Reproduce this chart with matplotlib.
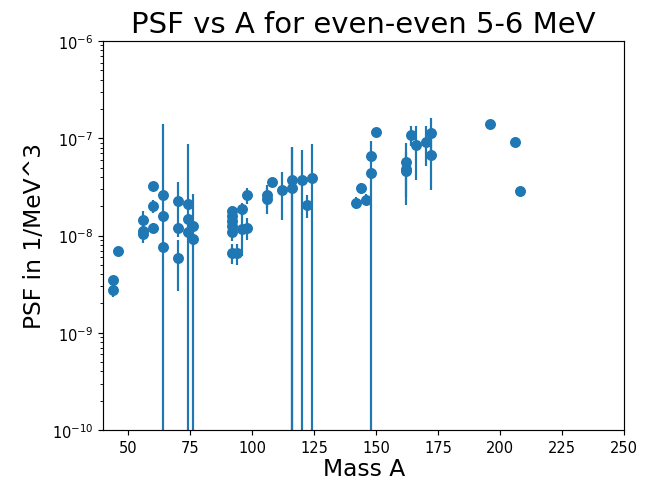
import matplotlib
matplotlib.use("Agg")
import matplotlib.pyplot as plt
import numpy as np

# Mass number A
mass_a = [44, 44, 46,
          56, 56, 56,
          60, 60, 60,
          64, 64, 64,
          70, 70, 70,
          74, 74, 74,
          76, 76,
          92, 92, 92, 92, 92, 92,
          94, 96, 96, 98, 98,
          106, 106, 108, 112,
          116, 116, 120, 122, 124,
          142, 144, 146, 148, 148, 150,
          162, 162, 162, 164, 166, 170, 172, 172,
          196, 206, 208]

# PSF values (1/MeV^3)
psf = [3.50e-9, 2.72e-9, 6.95e-9,
       1.45e-8, 1.10e-8, 1.03e-8,
       3.21e-8, 2.00e-8, 1.20e-8,
       2.61e-8, 1.60e-8, 7.59e-9,
       2.25e-8, 1.19e-8, 5.89e-9,
       2.11e-8, 1.48e-8, 1.08e-8,
       1.26e-8, 9.22e-9,
       1.80e-8, 1.60e-8, 1.42e-8, 1.26e-8, 1.08e-8, 6.60e-9,
       6.60e-9, 1.87e-8, 1.17e-8, 2.61e-8, 1.20e-8,
       2.60e-8, 2.35e-8, 3.53e-8, 2.96e-8,
       3.72e-8, 3.06e-8, 3.72e-8, 2.06e-8, 3.94e-8,
       2.16e-8, 3.06e-8, 2.34e-8, 6.53e-8, 4.40e-8, 1.17e-7,
       5.66e-8, 4.83e-8, 4.65e-8, 1.08e-7, 8.53e-8, 9.23e-8, 1.13e-7, 6.73e-8,
       1.39e-7, 9.10e-8, 2.89e-8]

# Uncertainties (1/MeV^3)
psf_err = [3.0e-10, 4.0e-10, 4.0e-10,
           3.5e-9, 1.5e-9, 2.0e-9,
           2.0e-9, 3.0e-9, 1.5e-9,
           2.0e-9, 2.0e-9, 1.33e-7,
           1.28e-8, 1.5e-9, 3.2e-9,
           2.0e-9, 7.25e-8, 1.0e-9,
           1.42e-8, 1.5e-9,
           2.0e-9, 2.0e-9, 2.0e-9, 2.0e-9, 2.0e-9, 1.5e-9,
           1.6e-9, 3.0e-9, 5.5e-9, 5.0e-9, 3.0e-9,
           7.0e-9, 7.0e-9, 3.0e-9, 1.5e-8,
           4.5e-8, 5.1e-8, 3.8e-8, 5.5e-9, 4.8e-8,
           3.0e-9, 4.0e-9, 3.0e-9, 5.0e-9, 5.0e-8, 2.0e-9,
           3.2e-8, 3.0e-9, 2.6e-8, 2.5e-8, 4.8e-8, 4.0e-8, 5.0e-8, 3.8e-8,
           2.0e-9, 2.0e-9, 3.0e-9]

DPI = 105
fig = plt.figure(figsize=(664 / DPI, 483 / DPI), dpi=DPI)
ax = fig.add_axes([103.4 / 664, 1 - 431 / 483, (624 - 103.4) / 664, (431 - 42) / 483])
ax.errorbar(mass_a, psf, yerr=psf_err, fmt='o', markersize=6.5)
ax.set_yscale('log')
ax.set_xlim(40, 250)
ax.set_ylim(1e-10, 1e-6)
ax.set_title('PSF vs A for even-even 5-6 MeV', fontsize=20)
ax.set_xlabel('Mass A', fontsize=16, labelpad=1.5)
ax.set_ylabel('PSF in 1/MeV^3', fontsize=16)
fig.savefig('out.png', dpi=DPI)
